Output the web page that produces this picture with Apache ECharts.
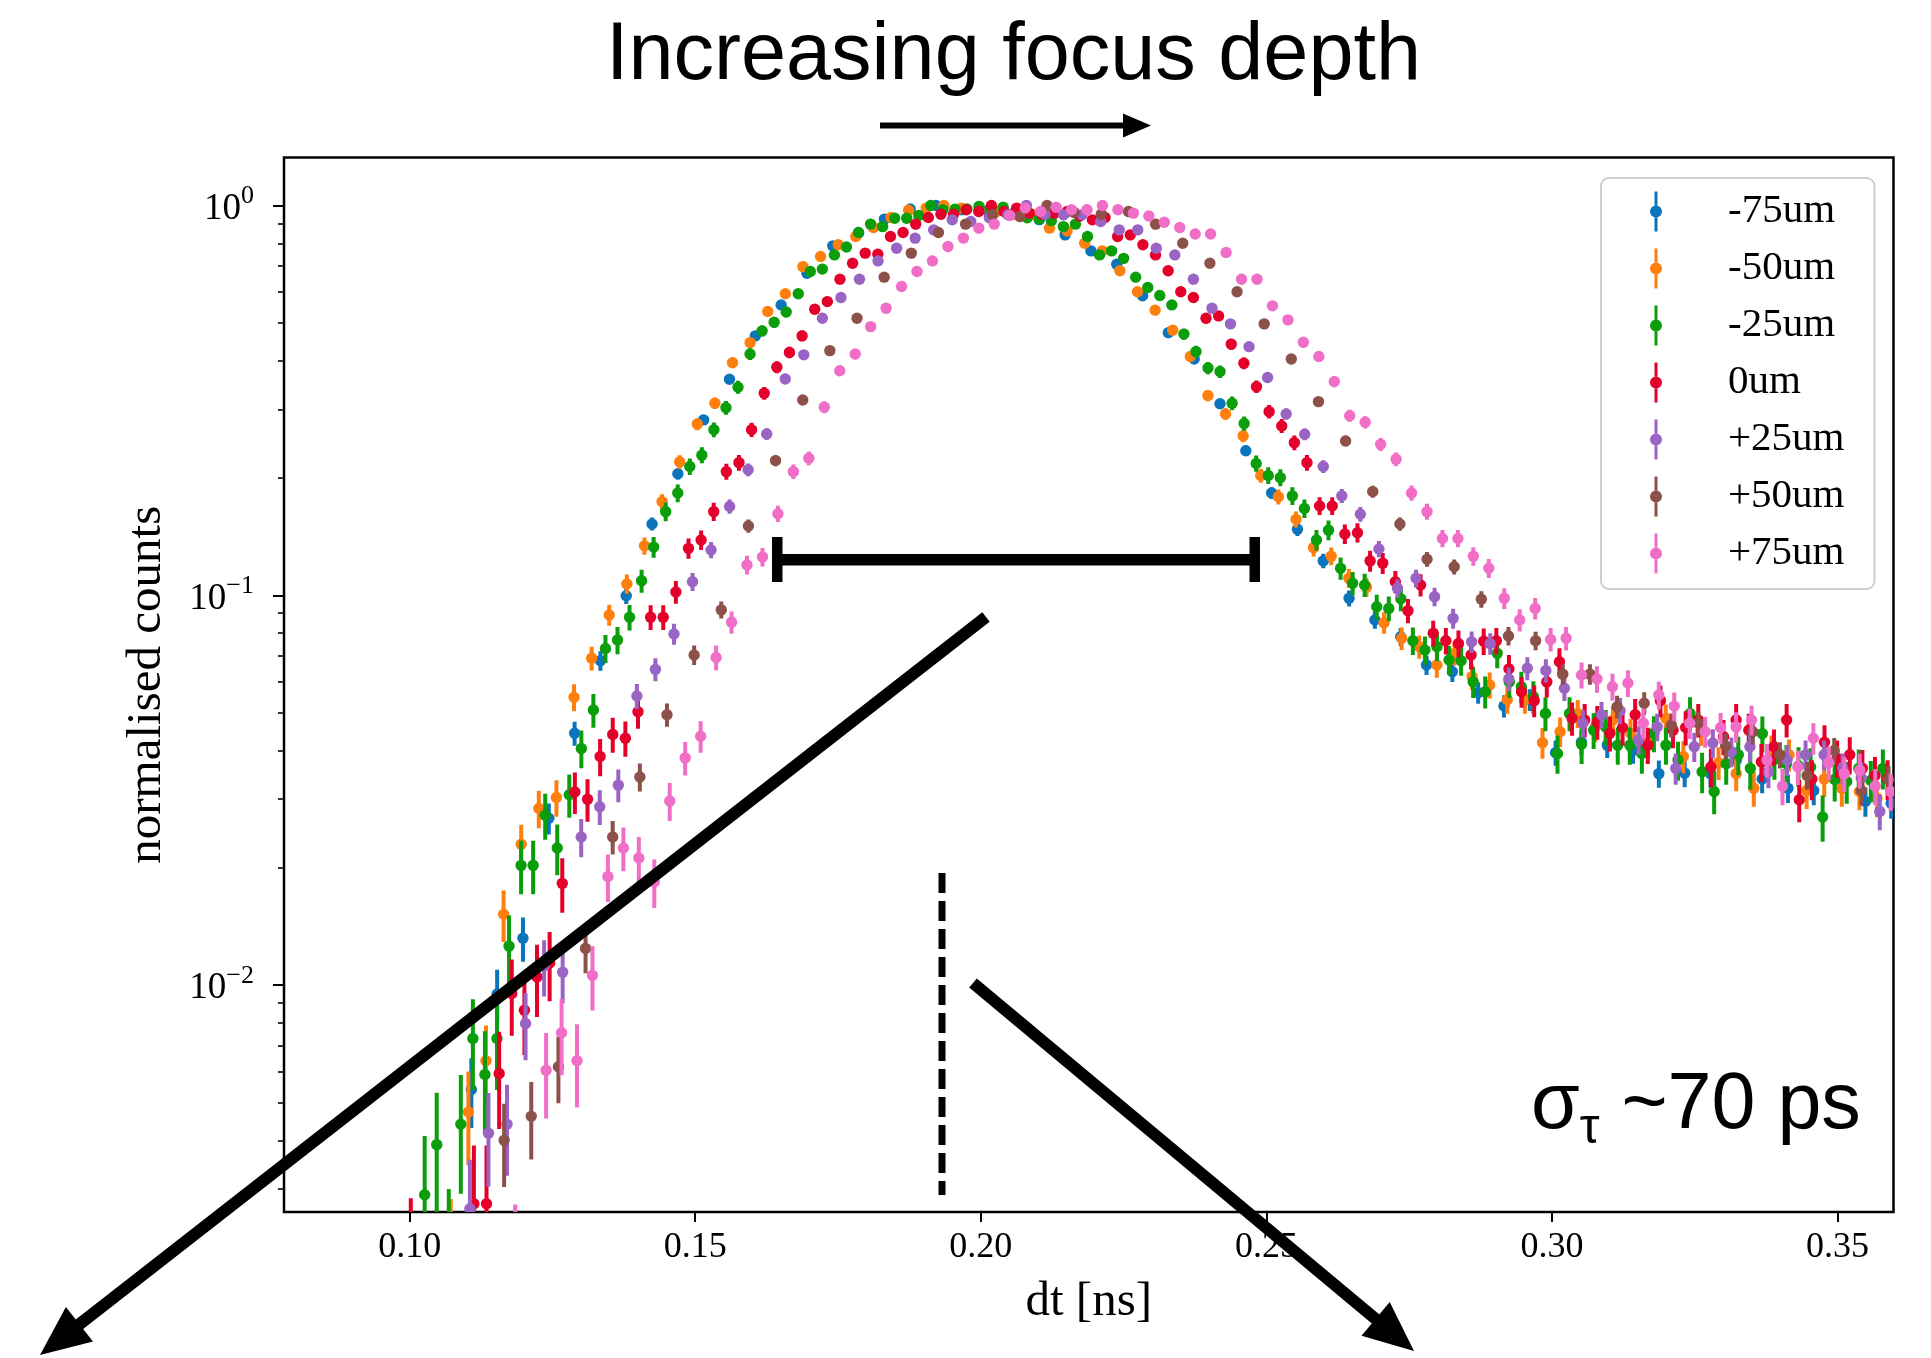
<!DOCTYPE html>
<html><head><meta charset="utf-8">
<script src="https://cdn.jsdelivr.net/npm/echarts@6/dist/echarts.min.js"></script>
<style>html,body{margin:0;padding:0;background:#fff}#chart{width:1931px;height:1358px}</style>
</head><body><div id="chart"></div>
<script>
// ---------------- data ----------------
const seriesNames = ['-75um', '-50um', '-25um', '0um', '+25um', '+50um', '+75um'];
const seriesColors = ['#0a74bd', '#ff7f0e', '#0a9e0a', '#e4002b', '#9a64c4', '#8c5249', '#f06ec8'];
// centre of first histogram bin and bin width (ns) for each series
const binStart = [0.1108, 0.10720, 0.10263, 0.10020, 0.11055, 0.11654, 0.11848];
const binWidth = [0.00452, 0.003083, 0.00211, 0.00221, 0.003248, 0.0047527, 0.0027058];
// counts in the peak bin (used for Poisson error bars)
const peakCounts = [4500, 2900, 2000, 2150, 3300, 4300, 2700];

const valsM75 = [0.0054,0.0095,0.0132,0.0268,0.0443,0.068,0.0998,0.1525,0.205,0.282,
 0.3585,0.463,0.556,0.67,0.788,0.85,0.923,0.98,1.0,0.975,
 0.97,0.955,0.92,0.841,0.765,0.707,0.587,0.472,0.404,0.310,
 0.235,0.183,0.1478,0.1226,0.0983,0.0865,0.0783,0.0663,0.0637,0.0563,
 0.052,0.054,0.0395,0.042,0.0413,0.040,0.0349,0.035,0.0349,0.0378,
 0.0338,0.032,0.0316,0.034,0.0296,0.0293];
const valsM50 = [0.002,0.00473,0.0064,
 0.0152,0.0230,0.0284,0.0303,0.0548,0.069,0.0891,0.107,0.134,0.174,
 0.220,0.275,0.311,0.395,0.445,0.535,0.594,0.697,0.740,0.793,
 0.833,0.878,0.932,0.973,0.985,1.0,0.985,0.97,0.965,0.95,
 0.95,0.875,0.86,0.80,0.765,0.68,0.601,0.539,0.479,0.410,
 0.3255,0.292,0.2565,0.203,0.179,0.1567,0.1326,0.126,0.1106,0.105,
 0.0851,0.0776,0.0738,0.0663,0.071,0.0619,0.0589,0.054,0.054,0.0419,
 0.0447,0.0498,0.046,0.0479,0.0443,0.042,0.0484,0.0386,0.045,0.0372,
 0.0349,0.032,0.040,0.039,0.0316,0.0338,0.032,0.0314,0.0302];
const valsM25 = [0.0029,0.0039,0.002,0.0044,0.0073,0.0059,0.0073,0.0126,0.0203,0.0203,
 0.0273,0.0225,0.0308,0.0405,0.0508,0.0731,0.0768,0.0879,0.109,0.133,
 0.164,0.183,0.214,0.229,0.266,0.303,0.342,0.416,0.477,0.502,
 0.533,0.594,0.677,0.687,0.747,0.783,0.853,0.896,0.883,0.928,
 0.928,0.943,1.0,0.975,0.978,0.98,0.995,0.975,0.99,0.96,
 0.93,0.925,0.914,0.883,0.896,0.833,0.747,0.765,0.732,0.655,
 0.616,0.588,0.556,0.468,0.422,0.383,0.375,0.311,0.276,0.218,
 0.203,0.2005,0.18,0.167,0.1387,0.147,0.1174,0.1074,0.1063,0.0935,
 0.0926,0.098,0.0765,0.0724,0.0738,0.0683,0.068,0.060,0.0566,0.071,
 0.060,0.0583,0.055,0.0498,0.0393,0.0498,0.0415,0.0451,0.046,0.0413,
 0.0413,0.0393,0.0443,0.0413,0.0378,0.0498,0.0353,0.0314,0.037,0.039,
 0.036,0.0442,0.038,0.037,0.0365,0.0363,0.027,0.0337,0.0333,0.036,
 0.0335,0.036];
const vals0 = [0.0019,0.0012,0.0012,0.0012,0.0012,0.00275,0.00275,0.00594,0.00953,0.00863,
 0.0105,0.0114,0.01825,0.0313,0.030,0.0386,0.044,0.043,0.0503,0.0879,
 0.0879,0.102,0.132,0.1387,0.164,0.2077,0.219,0.266,0.330,0.385,
 0.420,0.463,0.542,0.567,0.647,0.711,0.755,0.75,0.833,0.853,
 0.896,0.932,0.95,0.95,0.975,0.965,1.0,0.965,0.985,0.955,
 0.95,0.955,0.965,0.94,0.919,0.932,0.833,0.841,0.793,0.747,
 0.68,0.601,0.581,0.514,0.521,0.441,0.394,0.343,0.296,0.272,
 0.2465,0.219,0.1696,0.1696,0.1437,0.1448,0.1226,0.121,0.1084,0.0914,
 0.1063,0.080,0.0765,0.0753,0.0703,0.0763,0.0765,0.0648,0.0566,0.0537,
 0.060,0.0676,0.0484,0.0479,0.0473,0.0443,0.0458,0.0494,0.0413,0.0537,
 0.0451,0.0458,0.0479,0.0363,0.0434,0.0479,0.0451,0.0374,0.0409,0.0479,
 0.0299,0.0338,0.042,0.0382,0.039,0.036,0.0345,0.0338];
const valsP25 = [0.00267,0.00417,0.0044,0.00798,0.0112,0.0108,0.024,0.0287,0.0326,0.0552,
 0.0646,0.0796,0.1084,0.1308,0.169,0.21,0.2595,0.359,0.414,0.514,
 0.581,0.647,0.721,0.777,0.825,0.866,0.919,0.91,0.93,0.947,
 1.0,0.95,0.947,0.947,0.91,0.866,0.866,0.777,0.747,0.647,
 0.545,0.497,0.4345,0.362,0.292,0.259,0.214,0.18,0.1615,0.1315,
 0.1043,0.1106,0.0992,0.0873,0.076,0.0752,0.061,0.065,0.0642,0.0578,
 0.047,0.0494,0.0506,0.0426,0.046,0.036,0.0409,0.0418,0.0397,0.0409,
 0.0353,0.0378,0.039,0.039,0.036,0.034,0.0279];
const valsP50 = [0.0040,0.00461,0.00618,0.01243,0.024,0.0342,0.0494,0.0703,0.0918,0.1507,
 0.2217,0.317,0.4245,0.514,0.655,0.755,0.853,0.896,0.947,0.937,
 1.0,0.96,0.95,0.965,0.896,0.80,0.711,0.601,0.497,0.404,
 0.314,0.249,0.1846,0.1525,0.1238,0.1184,0.0977,0.0787,0.0765,0.0628,
 0.0628,0.0518,0.0529,0.0465,0.047,0.0411,0.0447,0.039,0.0345,0.040,
 0.0316,0.0337];
const valsP75 = [0.0019,0.0015,0.00605,0.00755,0.0064,0.0106,0.019,0.0225,0.0212,0.0184,
 0.0297,0.0383,0.0435,0.0693,0.0853,0.1197,0.1254,0.162,0.2077,0.2248,
 0.304,0.377,0.416,0.489,0.545,0.62,0.677,0.721,0.785,0.825,
 0.875,0.896,0.943,0.985,0.965,0.99,0.975,0.975,1.0,0.975,
 0.956,0.94,0.906,0.878,0.845,0.845,0.758,0.647,0.647,0.553,
 0.509,0.446,0.41,0.3535,0.289,0.278,0.244,0.2235,0.183,0.164,
 0.140,0.140,0.126,0.1174,0.0983,0.0865,0.0926,0.0771,0.0776,0.0625,
 0.061,0.0583,0.0596,0.047,0.0555,0.052,0.047,0.0447,0.0458,0.046,
 0.0479,0.0378,0.0324,0.0363,0.043,0.0372,0.0349,0.0356,0.0324,0.0314];
const seriesValues = [valsM75, valsM50, valsM25, vals0, valsP25, valsP50, valsP75];

const xTicks = [0.10, 0.15, 0.20, 0.25, 0.30, 0.35];
const yMajorTicks = [0.01, 0.1, 1];
const yMinorTicks = [0.003,0.004,0.005,0.006,0.007,0.008,0.009,
  0.02,0.03,0.04,0.05,0.06,0.07,0.08,0.09,
  0.2,0.3,0.4,0.5,0.6,0.7,0.8,0.9];
const xRange = [0.078, 0.3598];
const yRange = [0.00262, 1.328];

// ---------------- chart ----------------
const chart = echarts.init(document.getElementById('chart'), null, {renderer: 'canvas'});
const serifFont = 'Liberation Serif';
const sansFont = 'Liberation Sans';

function makeSeries(idx) {
  const vals = seriesValues[idx];
  const data = vals.map((v, i) => [binStart[idx] + i * binWidth[idx], v, Math.sqrt(v / peakCounts[idx])]);
  return {
    name: seriesNames[idx], type: 'custom', coordinateSystem: 'cartesian2d',
    xAxisIndex: 0, yAxisIndex: 0, clip: true,
    itemStyle: {color: seriesColors[idx]},
    encode: {x: 0, y: 1},
    renderItem: function (params, api) {
      const x = api.value(0), y = api.value(1), e = api.value(2);
      const c = api.coord([x, y]);
      const lo = api.coord([x, Math.max(y - e, 1e-6)]);
      const hi = api.coord([x, y + e]);
      const color = api.visual('color');
      return {type: 'group', children: [
        {type: 'line', shape: {x1: c[0], y1: lo[1], x2: c[0], y2: hi[1]}, style: {stroke: color, lineWidth: 4}},
        {type: 'circle', shape: {cx: c[0], cy: c[1], r: 5.7}, style: {fill: color}}
      ]};
    },
    data: data
  };
}

function supLabel(v) {
  const e = Math.round(Math.log10(v));
  const s = e < 0 ? '\u2212' + (-e) : String(e);
  return '{b|10}{s|' + s + '}';
}

// legend icon: error bar with a dot, padded so text starts further right
const legendIcon = 'path://M39.5 0 L42.5 0 L42.5 14 L39.5 14 Z M39.5 26 L42.5 26 L42.5 40 L39.5 40 Z ' +
  'M35 20 A6 6 0 1 1 47 20 A6 6 0 1 1 35 20 Z M0 0 L0.01 0 L0 0.01 Z M108 40 L107.99 40 L108 39.99 Z';

function arrow(x1, y1, x2, y2, lw, headLen, headHalf) {
  const dx = x2 - x1, dy = y2 - y1, L = Math.hypot(dx, dy);
  const ux = dx / L, uy = dy / L, nx = -uy, ny = ux;
  const bx = x2 - ux * headLen, by = y2 - uy * headLen;
  return [
    {type: 'line', z: 100, shape: {x1: x1, y1: y1, x2: bx + ux * 2, y2: by + uy * 2}, style: {stroke: '#000', lineWidth: lw}},
    {type: 'polygon', z: 100, shape: {points: [[x2, y2], [bx + nx * headHalf, by + ny * headHalf], [bx - nx * headHalf, by - ny * headHalf]]}, style: {fill: '#000'}}
  ];
}

const graphics = [].concat(
  [{type: 'text', z: 100, x: 1013.5, y: 57, style: {text: 'Increasing focus depth', fontSize: 81, fontFamily: sansFont, fill: '#000', align: 'center', verticalAlign: 'middle'}}],
  arrow(880, 125.5, 1151, 125.5, 6, 28, 12),
  [
    {type: 'rect', z: 100, shape: {x: 772, y: 554, width: 488, height: 11.5}, style: {fill: '#000'}},
    {type: 'rect', z: 100, shape: {x: 772, y: 537, width: 10.5, height: 45}, style: {fill: '#000'}},
    {type: 'rect', z: 100, shape: {x: 1249.5, y: 537, width: 10.5, height: 45}, style: {fill: '#000'}},
    {type: 'line', z: 100, shape: {x1: 942, y1: 873, x2: 942, y2: 1195}, style: {stroke: '#000', lineWidth: 7, lineDash: [20, 8]}}
  ],
  arrow(986, 617, 40, 1355, 12, 50, 22),
  arrow(973, 983, 1414, 1351, 12, 50, 22),
  [{type: 'text', z: 100, x: 1531, y: 1106, style: {
    text: '{a|\u03c3}{s|\u03c4}{a| ~70 ps}', align: 'left', verticalAlign: 'middle',
    rich: {
      a: {fontSize: 79, fontFamily: sansFont, fill: '#000', lineHeight: 96, verticalAlign: 'middle'},
      s: {fontSize: 50, fontFamily: sansFont, fill: '#000', lineHeight: 50, verticalAlign: 'bottom'}
    }}}]
);

const option = {
  animation: false,
  backgroundColor: '#ffffff',
  grid: {left: 284, top: 157.5, right: 37.5, bottom: 146, show: true, borderColor: '#000', borderWidth: 2.5, backgroundColor: '#fff', containLabel: false, outerBoundsMode: 'none'},
  xAxis: [{
    type: 'value', min: xRange[0], max: xRange[1],
    name: 'dt [ns]', nameLocation: 'middle', nameGap: 66,
    nameTextStyle: {fontFamily: serifFont, fontSize: 49, color: '#000'},
    axisLine: {show: false}, splitLine: {show: false},
    axisTick: {show: true, customValues: xTicks, length: 10, lineStyle: {color: '#000', width: 2}},
    axisLabel: {customValues: xTicks, formatter: v => v.toFixed(2), fontFamily: serifFont, fontSize: 36, color: '#000', margin: 18}
  }],
  yAxis: [{
    type: 'log', logBase: 10, min: yRange[0], max: yRange[1], position: 'left',
    name: 'normalised counts', nameLocation: 'middle', nameRotate: 90, nameGap: 112,
    nameTextStyle: {fontFamily: serifFont, fontSize: 49, color: '#000'},
    axisLine: {show: false}, splitLine: {show: false}, minorTick: {show: false},
    axisTick: {show: true, customValues: yMajorTicks, length: 11, lineStyle: {color: '#000', width: 2}},
    axisLabel: {customValues: yMajorTicks, formatter: supLabel, margin: 30,
      rich: {
        b: {fontFamily: serifFont, fontSize: 37, color: '#000', lineHeight: 44, verticalAlign: 'bottom'},
        s: {fontFamily: serifFont, fontSize: 26, color: '#000', lineHeight: 44, verticalAlign: 'top'}
      }}
  }, {
    type: 'log', logBase: 10, min: yRange[0], max: yRange[1], position: 'left',
    axisLine: {show: false}, splitLine: {show: false},
    axisTick: {show: true, customValues: yMinorTicks, length: 6, lineStyle: {color: '#000', width: 1.6}},
    axisLabel: {show: false}
  }],
  legend: {
    orient: 'vertical', left: 1601, top: 178,
    padding: [13, 30, 15, 14], itemGap: 16, itemWidth: 108, itemHeight: 40,
    icon: legendIcon,
    textStyle: {fontFamily: serifFont, fontSize: 41, color: '#000'},
    backgroundColor: 'rgba(255,255,255,0.85)', borderColor: '#cfcfcf', borderWidth: 2, borderRadius: 8,
    data: seriesNames
  },
  series: seriesNames.map((n, i) => makeSeries(i)),
  graphic: graphics
};
chart.setOption(option);
</script></body></html>
